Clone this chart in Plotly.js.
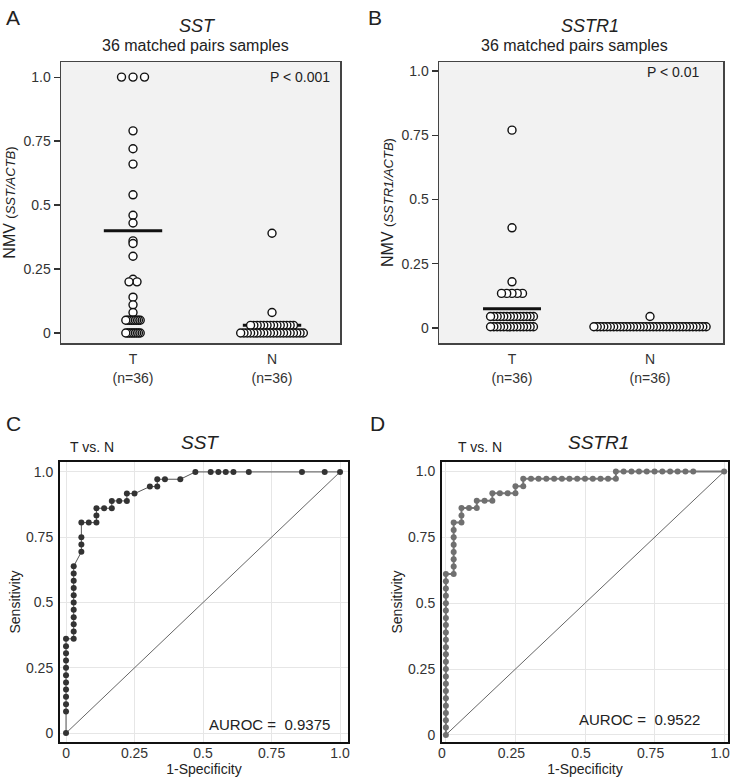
<!DOCTYPE html>
<html>
<head>
<meta charset="utf-8">
<script src="https://cdn.plot.ly/plotly-3.0.1.min.js"></script>
<style>html,body{margin:0;padding:0;background:#fff}#chart{width:731px;height:779px}</style>
</head>
<body>
<div id="chart"></div>
<script>
// ---------------- data ----------------
const categories = ['T', 'N'];
const catLabels = ['T<br>(n=36)', 'N<br>(n=36)'];
const nmvTickVals = [0, 0.25, 0.5, 0.75, 1.0];
const nmvTickText = ['0', '0.25', '0.5', '0.75', '1.0'];
const rocTickVals = [0, 0.25, 0.5, 0.75, 1.0];
const rocTickText = ['0', '0.25', '0.5', '0.75', '1.0'];

// Panel A: SST NMV values
const sstT = [1, 1, 1, 0.79, 0.72, 0.66, 0.54, 0.46, 0.43, 0.36, 0.35, 0.30, 0.21, 0.20, 0.20, 0.14, 0.11, 0.08,
  0.05, 0.05, 0.05, 0.05, 0.05, 0.05, 0.05, 0.05, 0.05,
  0, 0, 0, 0, 0, 0, 0, 0, 0];
const sstN = [0.39, 0.08,
  0.03, 0.03, 0.03, 0.03, 0.03, 0.03, 0.03, 0.03, 0.03, 0.03, 0.03, 0.03, 0.03, 0.03,
  0, 0, 0, 0, 0, 0, 0, 0, 0, 0, 0, 0, 0, 0, 0, 0, 0, 0, 0, 0];
const sstCenter = [0.40, 0.03];

// Panel B: SSTR1 NMV values
const sstr1T = [0.77, 0.39, 0.18,
  0.135, 0.135, 0.135, 0.135, 0.135,
  0.045, 0.045, 0.045, 0.045, 0.045, 0.045, 0.045, 0.045, 0.045, 0.045, 0.045, 0.045, 0.045, 0.045,
  0.005, 0.005, 0.005, 0.005, 0.005, 0.005, 0.005, 0.005, 0.005, 0.005, 0.005, 0.005, 0.005, 0.005];
const sstr1N = [0.045,
  0.005, 0.005, 0.005, 0.005, 0.005, 0.005, 0.005, 0.005, 0.005, 0.005,
  0.005, 0.005, 0.005, 0.005, 0.005, 0.005, 0.005, 0.005, 0.005, 0.005,
  0.005, 0.005, 0.005, 0.005, 0.005, 0.005, 0.005, 0.005, 0.005, 0.005,
  0.005, 0.005, 0.005, 0.005, 0.005];
const sstr1Center = [0.075, 0.005];

// Panel C: ROC for SST
const sstFpr = [0,
  0, 0, 0, 0, 0, 0, 0, 0, 0, 0, 0,
  0.028, 0.028, 0.028, 0.028, 0.028, 0.028, 0.028, 0.028, 0.028, 0.028, 0.028,
  0.056, 0.056, 0.056, 0.056,
  0.083, 0.111, 0.111, 0.111, 0.139, 0.167, 0.167, 0.194, 0.222, 0.222, 0.25,
  0.306, 0.333, 0.333, 0.361, 0.417,
  0.472, 0.528, 0.556, 0.583, 0.611, 0.667, 0.861, 0.944, 1];
const sstTpr = [0,
  0.083, 0.111, 0.139, 0.167, 0.194, 0.222, 0.25, 0.278, 0.306, 0.333, 0.361,
  0.361, 0.389, 0.417, 0.444, 0.472, 0.5, 0.528, 0.556, 0.583, 0.611, 0.639,
  0.694, 0.722, 0.75, 0.806,
  0.806, 0.806, 0.833, 0.861, 0.861, 0.861, 0.889, 0.889, 0.889, 0.917, 0.917,
  0.944, 0.944, 0.972, 0.972, 0.972,
  1, 1, 1, 1, 1, 1, 1, 1, 1];
const sstAuroc = '0.9375';

// Panel D: ROC for SSTR1
const sstr1Fpr = [0, 0, 0, 0, 0, 0, 0, 0, 0, 0, 0, 0, 0, 0, 0, 0, 0, 0, 0, 0, 0, 0, 0,
  0.028, 0.028, 0.028, 0.028, 0.028, 0.028, 0.028, 0.028,
  0.056, 0.056, 0.056,
  0.083, 0.111, 0.111, 0.139, 0.167, 0.167, 0.194, 0.222, 0.25, 0.25, 0.278, 0.278,
  0.306, 0.333, 0.361, 0.389, 0.417, 0.444, 0.472, 0.5, 0.528, 0.556, 0.583,
  0.611, 0.611,
  0.639, 0.667, 0.694, 0.722, 0.75, 0.778, 0.806, 0.833, 0.861, 0.889,
  1];
const sstr1Tpr = [0, 0.028, 0.056, 0.083, 0.111, 0.139, 0.167, 0.194, 0.222, 0.25, 0.278, 0.306,
  0.333, 0.361, 0.389, 0.417, 0.444, 0.472, 0.5, 0.528, 0.556, 0.583, 0.611,
  0.611, 0.639, 0.667, 0.694, 0.722, 0.75, 0.778, 0.806,
  0.806, 0.833, 0.861,
  0.861, 0.861, 0.889, 0.889, 0.889, 0.917, 0.917, 0.917, 0.917, 0.944, 0.944, 0.972,
  0.972, 0.972, 0.972, 0.972, 0.972, 0.972, 0.972, 0.972, 0.972, 0.972, 0.972,
  0.972, 1,
  1, 1, 1, 1, 1, 1, 1, 1, 1, 1,
  1];
const sstr1Auroc = '0.9522';
const chanceLine = [0, 1];

// ---------------- layout helpers ----------------
const W = 731, H = 779;
const FONT = 'Arial, "Liberation Sans", Helvetica, sans-serif';
const px = x => x / W;
const py = y => 1 - y / H;

const boxes = {
  A: {l: 61, r: 340, t: 62, b: 343, xr: [-0.518, 1.489], yr: [-0.039, 1.059]},
  B: {l: 439, r: 723, t: 62, b: 343, xr: [-0.529, 1.529], yr: [-0.058, 1.035]},
  C: {l: 60, r: 348, t: 462, b: 742, xr: [-0.022, 1.029], yr: [-0.034, 1.038]},
  D: {l: 442, r: 728, t: 462, b: 742, xr: [-0.014, 1.014], yr: [-0.027, 1.036]}
};

// beeswarm-like horizontal spreading of equal values (computed, not typed)
function stepPx(n) {
  if (n <= 1) return 0;
  if (n === 2) return 8;
  if (n === 3) return 11.5;
  if (n <= 6) return 5.25;
  if (n <= 11) return 1.8;
  return 3.3;
}
function swarm(values, catIndex, box) {
  const pxPerUnit = (box.r - box.l) / (box.xr[1] - box.xr[0]);
  const groups = new Map();
  values.forEach(v => { groups.set(v, (groups.get(v) || 0) + 1); });
  const xs = [], ys = [];
  groups.forEach((n, v) => {
    const s = stepPx(n);
    for (let i = n - 1; i >= 0; i--) {   // right-most drawn first, left-most on top
      xs.push(catIndex + (i - (n - 1) / 2) * s / pxPerUnit);
      ys.push(v);
    }
  });
  return {xs, ys};
}

const traces = [];
function dotPanel(tVals, nVals, centers, xa, ya, box) {
  centers.forEach((c, i) => {
    traces.push({x: [i - 0.21, i + 0.21], y: [c, c], mode: 'lines', xaxis: xa, yaxis: ya,
      line: {color: '#111', width: 3}, hoverinfo: 'skip', showlegend: false});
  });
  [tVals, nVals].forEach((vals, i) => {
    const s = swarm(vals, i, box);
    traces.push({x: s.xs, y: s.ys, mode: 'markers', xaxis: xa, yaxis: ya, name: categories[i],
      marker: {size: 8, color: '#fff', line: {color: '#111', width: 1.4}}, showlegend: false});
  });
}
dotPanel(sstT, sstN, sstCenter, 'x', 'y', boxes.A);
dotPanel(sstr1T, sstr1N, sstr1Center, 'x2', 'y2', boxes.B);

function rocPanel(fpr, tpr, xa, ya, lineColor, lineWidth, markColor) {
  traces.push({x: chanceLine, y: chanceLine, mode: 'lines', xaxis: xa, yaxis: ya,
    line: {color: '#666', width: 1}, hoverinfo: 'skip', showlegend: false});
  traces.push({x: fpr, y: tpr, mode: 'lines+markers', xaxis: xa, yaxis: ya,
    line: {color: lineColor, width: lineWidth},
    marker: {size: 6, color: markColor, symbol: 'circle'}, showlegend: false});
}
rocPanel(sstFpr, sstTpr, 'x3', 'y3', '#555', 1, '#333');
rocPanel(sstr1Fpr, sstr1Tpr, 'x4', 'y4', '#777', 2, '#707070');

function dotX(box, anchor) {
  return {domain: [px(box.l), px(box.r)], range: box.xr, anchor: anchor,
    tickvals: [0, 1], ticktext: catLabels, ticks: '', showgrid: false, zeroline: false,
    showline: true, mirror: true, linecolor: '#444', linewidth: 1.5,
    ticklabelstandoff: 3,
    tickfont: {family: FONT, size: 14, color: '#333'}};
}
function dotY(box, anchor, titleHtml) {
  return {domain: [py(box.b), py(box.t)], range: box.yr, anchor: anchor,
    tickvals: nmvTickVals, ticktext: nmvTickText, ticks: 'outside', ticklen: 6, tickwidth: 1.2,
    tickcolor: '#333', showgrid: false, zeroline: false,
    showline: true, mirror: true, linecolor: '#444', linewidth: 1.5,
    tickfont: {family: FONT, size: 14, color: '#333'},
    title: {text: titleHtml, font: {family: FONT, size: 16, color: '#222'}, standoff: 4}};
}
function rocX(box, anchor, shift) {
  return {domain: [px(box.l), px(box.r)], range: box.xr, anchor: anchor,
    tickvals: rocTickVals, ticktext: rocTickText, ticks: '', showgrid: true, gridcolor: '#e6e6e6',
    zeroline: false, showline: true, mirror: true, linecolor: '#111', linewidth: 2,
    ticklabelstandoff: -3, ticklabelshift: shift, ticklabeloverflow: 'allow',
    tickfont: {family: FONT, size: 14, color: '#333'},
    title: {text: '1-Specificity', font: {family: FONT, size: 14, color: '#222'}, standoff: 0}};
}
function rocY(box, anchor) {
  return {domain: [py(box.b), py(box.t)], range: box.yr, anchor: anchor,
    tickvals: rocTickVals, ticktext: rocTickText, ticks: '', showgrid: true, gridcolor: '#e6e6e6',
    zeroline: false, showline: true, mirror: true, linecolor: '#111', linewidth: 2,
    ticklabelstandoff: 2,
    tickfont: {family: FONT, size: 14, color: '#333'},
    title: {text: 'Sensitivity', font: {family: FONT, size: 14, color: '#222'}, standoff: 2}};
}

function ann(text, x, y, size, opts) {
  return Object.assign({text: text, x: px(x), y: py(y), xref: 'paper', yref: 'paper',
    showarrow: false, font: {family: FONT, size: size, color: '#222'},
    xanchor: 'center', yanchor: 'middle'}, opts || {});
}

const annotations = [
  ann('A', 4, 4, 21, {xanchor: 'left', yanchor: 'top'}),
  ann('B', 366, 4, 21, {xanchor: 'left', yanchor: 'top'}),
  ann('C', 4, 410, 21, {xanchor: 'left', yanchor: 'top'}),
  ann('D', 368, 410, 21, {xanchor: 'left', yanchor: 'top'}),
  ann('<i>SST</i>', 197, 26, 18),
  ann('36 matched pairs samples', 195, 46, 16),
  ann('<i>SSTR1</i>', 590, 26, 18),
  ann('36 matched pairs samples', 574, 46, 16),
  ann('P &lt; 0.001', 332, 77, 14, {xanchor: 'right'}),
  ann('P &lt; 0.01', 702, 72, 14, {xanchor: 'right'}),
  ann('T vs. N', 68, 447, 14, {xanchor: 'left'}),
  ann('<i>SST</i>', 200, 443, 19),
  ann('T vs. N', 456, 447, 14, {xanchor: 'left'}),
  ann('<i>SSTR1</i>', 598, 443, 19),
  ann('AUROC =  ' + sstAuroc, 332, 724, 15, {xanchor: 'right'}),
  ann('AUROC =  ' + sstr1Auroc, 702, 719, 15, {xanchor: 'right'})
];

const shapes = ['x', 'x2'].map((xa, i) => ({
  type: 'rect', xref: xa + ' domain', yref: (i === 0 ? 'y' : 'y2') + ' domain',
  x0: 0, x1: 1, y0: 0, y1: 1, fillcolor: '#f2f2f2', line: {width: 0}, layer: 'below'
}));

const layout = {
  width: W, height: H, margin: {l: 0, r: 0, t: 0, b: 0},
  paper_bgcolor: '#fff', plot_bgcolor: 'rgba(0,0,0,0)', showlegend: false,
  font: {family: FONT, color: '#222'},
  xaxis: dotX(boxes.A, 'y'),
  yaxis: dotY(boxes.A, 'x', 'NMV <span style="font-size:13px">(<i>SST/ACTB</i>)</span>'),
  xaxis2: dotX(boxes.B, 'y2'),
  yaxis2: dotY(boxes.B, 'x2', 'NMV <span style="font-size:13px">(<i>SSTR1/ACTB</i>)</span>'),
  xaxis3: rocX(boxes.C, 'y3', 0),
  yaxis3: rocY(boxes.C, 'x3'),
  xaxis4: rocX(boxes.D, 'y4', -4),
  yaxis4: rocY(boxes.D, 'x4'),
  annotations: annotations,
  shapes: shapes
};

Plotly.newPlot('chart', traces, layout, {staticPlot: true, displayModeBar: false});
</script>
</body>
</html>
